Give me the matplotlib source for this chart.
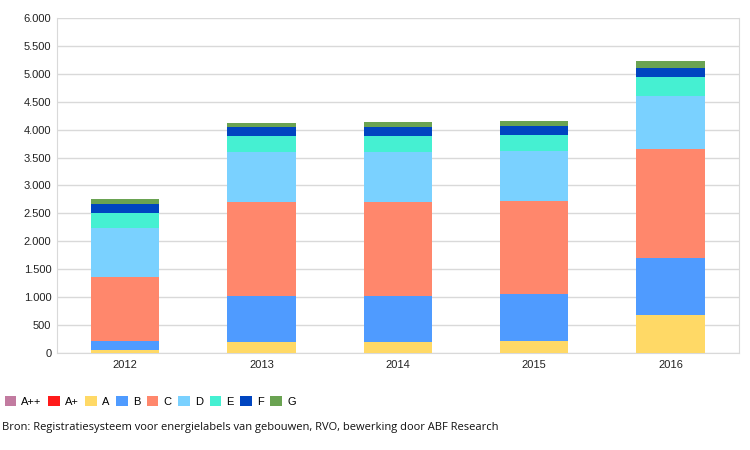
import numpy as np
import matplotlib
matplotlib.use('Agg')
import matplotlib.pyplot as plt
from matplotlib.patches import Patch
from matplotlib.ticker import FuncFormatter

# data
years = ['2012', '2013', '2014', '2015', '2016']
labels = ['A++', 'A+', 'A', 'B', 'C', 'D', 'E', 'F', 'G']
a_pp = [0, 0, 0, 0, 0]
a_p = [0, 0, 0, 0, 0]
a = [60, 203, 203, 220, 686]
b = [160, 824, 824, 830, 1009]
c = [1135, 1671, 1683, 1678, 1965]
d = [885, 896, 890, 883, 949]
e = [273, 286, 292, 299, 328]
f = [162, 161, 161, 161, 173]
g = [90, 84, 90, 90, 126]

series = [a_pp, a_p, a, b, c, d, e, f, g]
colors = ['#C27BA0', '#FF1A1A', '#FFD966', '#4F9BFF', '#FF876C',
          '#7AD1FF', '#45F0D2', '#0045C0', '#6AA352']

fig = plt.figure(figsize=(7.5, 4.5), dpi=100)
ax = fig.add_axes([0.076, 0.2156, 0.909, 0.7444])

x = np.arange(len(years))
bottom = np.zeros(len(years))
for vals, col in zip(series, colors):
    ax.bar(x, vals, width=0.5, bottom=bottom, color=col, zorder=3)
    bottom += np.array(vals)

ax.set_xlim(-0.5, len(years) - 0.5)
ax.set_ylim(0, 6000)
ax.set_yticks(np.arange(0, 6001, 500))
ax.yaxis.set_major_formatter(FuncFormatter(lambda v, p: f'{int(v):,}'.replace(',', '.')))
ax.set_xticks(x)
ax.set_xticklabels(years)
ax.tick_params(length=0, labelsize=8, colors='#222222')
ax.tick_params(axis='x', pad=5)
ax.tick_params(axis='y', pad=4)
ax.grid(axis='y', color='#D9D9D9', linewidth=1, zorder=0)
for s in ['left', 'right', 'bottom']:
    ax.spines[s].set_color('#D9D9D9')
ax.spines['top'].set_visible(False)
for lab in ax.get_xticklabels() + ax.get_yticklabels():
    lab.set_family('Liberation Sans')

handles = [Patch(facecolor=col, edgecolor='none') for col in colors]
fig.legend(handles, labels, loc='center left', bbox_to_anchor=(0.006, 0.108),
           ncol=9, frameon=False, prop={'family': 'Liberation Sans', 'size': 8},
           handlelength=1.05, handleheight=1.05, handletextpad=0.45,
           columnspacing=0.6, borderaxespad=0, borderpad=0)

fig.text(0.003, 0.05, 'Bron: Registratiesysteem voor energielabels van gebouwen, RVO, bewerking door ABF Research',
         fontsize=8, family='Open Sans', color='#111111', va='center', ha='left')

fig.savefig('out.png', dpi=100)
